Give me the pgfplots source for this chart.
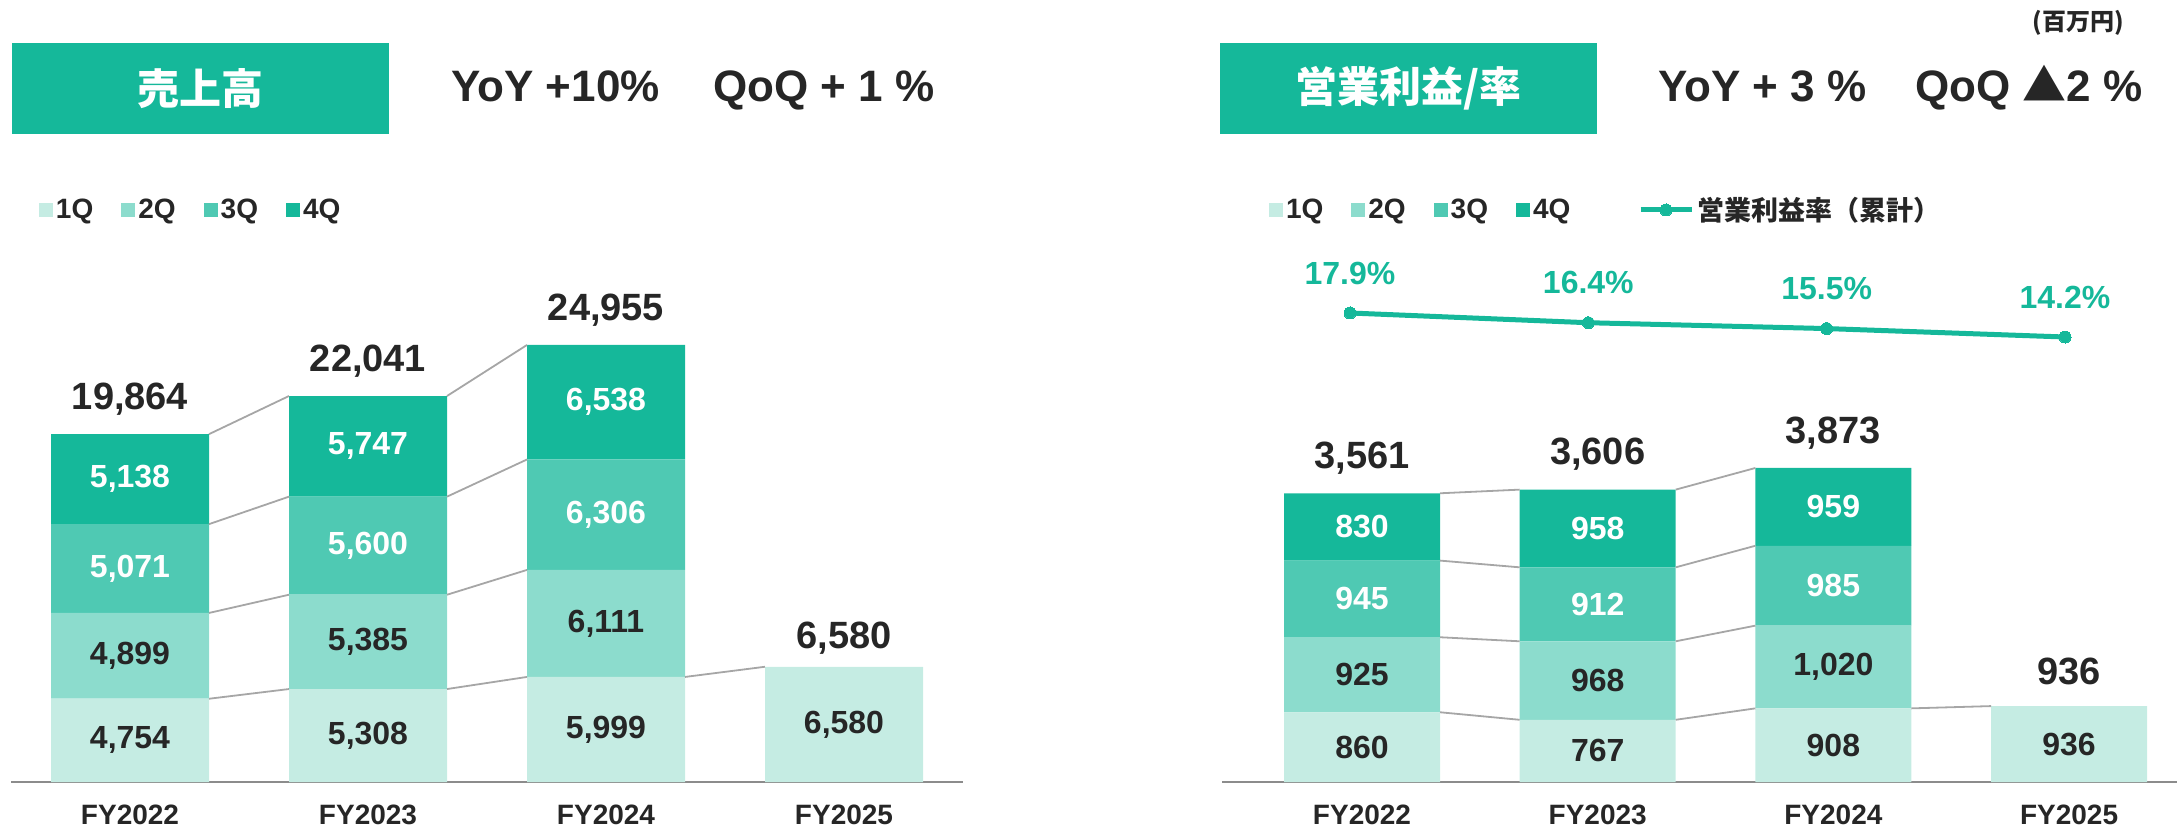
\documentclass[border=0pt]{standalone}
\usepackage{pgfplots}
\pgfplotsset{compat=1.18}
\usepackage{fontspec}
\setmainfont{Liberation Sans}
\newfontfamily\cjk{Noto Sans CJK JP}
\definecolor{q1}{HTML}{C5ECE3}
\definecolor{q2}{HTML}{8CDCCD}
\definecolor{q3}{HTML}{4FC9B3}
\definecolor{q4}{HTML}{15B89A}
\definecolor{txt}{HTML}{262626}
\definecolor{conn}{HTML}{A6A6A6}
\definecolor{basec}{HTML}{8C8C8C}
\newcommand{\fs}[1]{\fontsize{#1}{#1}\selectfont}
\pgfplotsset{
  barax/.style={scale only axis, anchor=south west, height=271pt, ymin=0,
    enlargelimits=false, axis y line=none, axis x line*=bottom,
    x axis line style={draw=basec, line width=1.3pt, -},
    xtick={0,1,2,3}, xticklabels={FY2022,FY2023,FY2024,FY2025},
    major tick length=0pt,
    xticklabel style={font=\bfseries\fs{14}, text=txt, anchor=center, yshift=-16.5pt},
    ybar stacked, clip=false,
    legend image code/.code={\fill[##1] (0pt,-3.5pt) rectangle (7pt,3.5pt);},
    legend style={draw=none, fill=none, anchor=west, legend columns=-1,
      inner sep=0pt, outer sep=0pt, font=\bfseries\fs{14}, text=txt,
      /tikz/every even column/.append style={column sep=12.5pt},
      nodes={inner sep=1.5pt}},
  },
  hidax/.style={scale only axis, anchor=south west, height=271pt,
    enlargelimits=false, hide axis, clip=false},
  conn/.style={draw=conn, line width=0.9pt},
  inlab/.style={draw=none, mark=none, nodes near coords, point meta=explicit symbolic,
    every node near coord/.append style={anchor=center, text=#1, font=\bfseries\fs{16}}},
  totlab/.style={draw=none, mark=none, nodes near coords, point meta=explicit symbolic,
    every node near coord/.append style={anchor=center, text=txt, font=\bfseries\fs{19}, yshift=#1}},
  linelegend/.style={legend image code/.code={\draw[mark repeat=2, mark phase=2, ##1] plot coordinates {(0pt,0pt) (12.75pt,0pt) (25.5pt,0pt)};}},
}
\begin{document}
\begin{tikzpicture}
\useasboundingbox (0,0) rectangle (1088.5pt,415.5pt);
% ---------- headers ----------
\fill[q4] (6pt,348.5pt) rectangle (194.5pt,394pt);
\node[text=white, font=\cjk\bfseries\fs{21}] at (100.25pt,371.25pt) {売上高};
\node[anchor=base west, inner sep=0pt, text=txt, font=\bfseries\fs{22}] at (225.5pt,364.7pt) {YoY +10\%};
\node[anchor=base west, inner sep=0pt, text=txt, font=\bfseries\fs{22}] at (356.5pt,364.7pt) {QoQ + 1 \%};
\fill[q4] (610pt,348.5pt) rectangle (798.5pt,394pt);
\node[text=white, font=\cjk\bfseries\fs{21}] at (704.25pt,371.25pt) {営業利益/率};
\node[anchor=base west, inner sep=0pt, text=txt, font=\bfseries\fs{22}] at (829pt,364.5pt) {YoY + 3 \%};
\node[anchor=base west, inner sep=0pt, text=txt, font=\bfseries\fs{22}] at (957.5pt,364.5pt) {QoQ {\cjk ▲}2 \%};
\node[text=txt, font=\cjk\bfseries\fs{12}] at (1039pt,404pt) {(百万円)};

% ---------- left chart: bars ----------
\begin{axis}[barax, at={(5.5pt,24.5pt)}, width=476pt, xmin=-0.5, xmax=3.5, ymax=30948,
  bar width=79pt, legend style={at={(0.0294,1.0554)}}]
\addplot[fill=q1, draw=none] coordinates {(0,4754) (1,5308) (2,5999) (3,6580)};
\addplot[fill=q2, draw=none] coordinates {(0,4899) (1,5385) (2,6111) (3,0)};
\addplot[fill=q3, draw=none] coordinates {(0,5071) (1,5600) (2,6306) (3,0)};
\addplot[fill=q4, draw=none] coordinates {(0,5138) (1,5747) (2,6538) (3,0)};
\legend{1Q,2Q,3Q,4Q}
\end{axis}
% ---------- left chart: connectors and labels ----------
\begin{axis}[hidax, at={(5.5pt,24.5pt)}, width=476pt, xmin=-0.5, xmax=3.5, ymin=0, ymax=30948]
\addplot[conn] coordinates {(0.332,4754) (0.668,5308)};
\addplot[conn] coordinates {(0.332,9653) (0.668,10693)};
\addplot[conn] coordinates {(0.332,14724) (0.668,16293)};
\addplot[conn] coordinates {(0.332,19862) (0.668,22040)};
\addplot[conn] coordinates {(1.332,5308) (1.668,5999)};
\addplot[conn] coordinates {(1.332,10693) (1.668,12110)};
\addplot[conn] coordinates {(1.332,16293) (1.668,18416)};
\addplot[conn] coordinates {(1.332,22040) (1.668,24954)};
\addplot[conn] coordinates {(2.332,5999) (2.668,6580)};
\addplot[inlab=txt] table[meta=l] {
x y l
0 2377 4,754
1 2654 5,308
2 2999.5 5,999
3 3290 6,580
0 7203.5 4,899
1 8000.5 5,385
2 9054.5 6,111
};
\addplot[inlab=white] table[meta=l] {
x y l
0 12188.5 5,071
1 13493 5,600
2 15263 6,306
0 17293 5,138
1 19166.5 5,747
2 21685 6,538
};
\addplot[totlab=17.5pt] table[meta=l] {
x y l
0 19862 19,864
1 22040 22,041
2 24954 24,955
};
\addplot[totlab=14.5pt] table[meta=l] {
x y l
3 6580 6,580
};
\end{axis}

% ---------- right chart: bars ----------
\begin{axis}[barax, at={(611pt,24.5pt)}, width=477.5pt, xmin=-0.594, xmax=3.458, ymax=6683,
  bar width=78pt, legend style={at={(0.0492,1.0554)}}]
\addplot[fill=q1, draw=none] coordinates {(0,860) (1,767) (2,908) (3,936)};
\addplot[fill=q2, draw=none] coordinates {(0,925) (1,968) (2,1020) (3,0)};
\addplot[fill=q3, draw=none] coordinates {(0,945) (1,912) (2,985) (3,0)};
\addplot[fill=q4, draw=none] coordinates {(0,830) (1,958) (2,959) (3,0)};
\legend{1Q,2Q,3Q,4Q}
\end{axis}
% ---------- right chart: connectors and labels ----------
\begin{axis}[hidax, at={(611pt,24.5pt)}, width=477.5pt, xmin=-0.594, xmax=3.458, ymin=0, ymax=6683]
\addplot[conn] coordinates {(0.331,860) (0.669,767)};
\addplot[conn] coordinates {(0.331,1785) (0.669,1735)};
\addplot[conn] coordinates {(0.331,2730) (0.669,2647)};
\addplot[conn] coordinates {(0.331,3560) (0.669,3605)};
\addplot[conn] coordinates {(1.331,767) (1.669,908)};
\addplot[conn] coordinates {(1.331,1735) (1.669,1928)};
\addplot[conn] coordinates {(1.331,2647) (1.669,2913)};
\addplot[conn] coordinates {(1.331,3605) (1.669,3872)};
\addplot[conn] coordinates {(2.331,908) (2.669,936)};
\addplot[inlab=txt] table[meta=l] {
x y l
0 430 860
1 383.5 767
2 454 908
3 468 936
0 1322.5 925
1 1251 968
2 1418 1,020
};
\addplot[inlab=white] table[meta=l] {
x y l
0 2257.5 945
1 2191 912
2 2420.5 985
0 3145 830
1 3126 958
2 3392.5 959
};
\addplot[totlab=17.5pt] table[meta=l] {
x y l
0 3560 3,561
1 3605 3,606
2 3872 3,873
3 936 936
};
\end{axis}
% ---------- right chart: operating margin line ----------
\begin{axis}[hidax, linelegend, at={(611pt,24.5pt)}, width=477.5pt, xmin=-0.537, xmax=3.470, ymin=-54.37, ymax=29.15,
  legend style={draw=none, fill=none, at={(0.4356,1.0554)}, anchor=west,
    inner sep=0pt, outer sep=0pt, font=\cjk\bfseries\fs{13.5}, text=txt, nodes={inner sep=1.5pt}}]
\addplot[q4, line width=2.5pt, mark=*, mark size=3pt, mark options={fill=q4, draw=q4, line width=0pt}]
  coordinates {(0,17.9) (1,16.4) (2,15.5) (3,14.2)};
\addlegendentry{営業利益率（累計）}
\addplot[forget plot, draw=none, mark=none, nodes near coords, point meta=explicit symbolic,
  every node near coord/.append style={anchor=center, text=q4, font=\bfseries\fs{16}, yshift=20pt}]
  table[meta=l] {
x y l
0 17.9 17.9\%
1 16.4 16.4\%
2 15.5 15.5\%
3 14.2 14.2\%
};
\end{axis}
\end{tikzpicture}
\end{document}
